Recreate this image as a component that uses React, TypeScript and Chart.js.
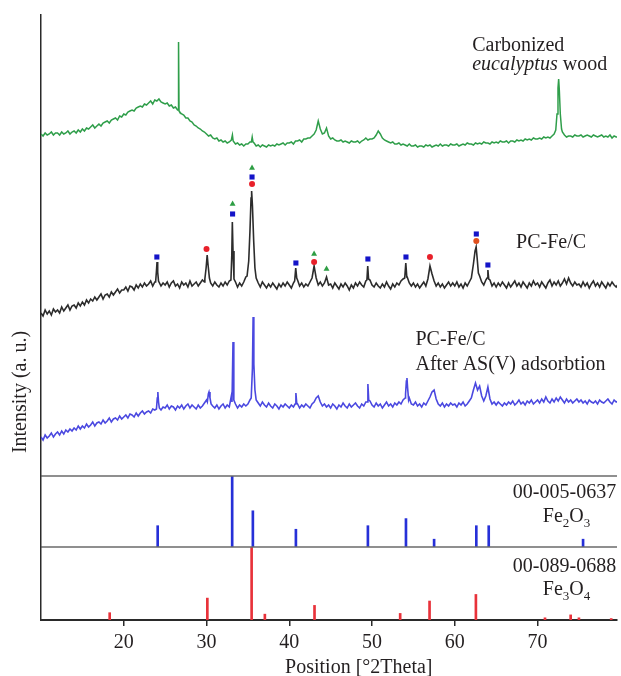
import { useEffect, useRef } from "react";
import { Chart, registerables } from "chart.js";

Chart.register(...registerables);

// 2θ axis
const THETA_MIN = 10;
const THETA_MAX = 79.6;
const xTickValues = [20, 30, 40, 50, 60, 70];

// Diffractograms are sampled every 0.25° from 10°, intensities in a.u. with the
// vertical offsets of the stacked plot already applied.
const SCAN_START = 10;
const SCAN_STEP = 0.25;

const woodScan = [
  342, 340, 343, 341, 342, 344, 341, 343, 343, 341, 344, 342, 343, 345, 342, 344, 345, 343, 346, 344,
  347, 345, 348, 347, 349, 351, 348, 350, 352, 350, 353, 354, 355, 353, 356, 357, 358, 356, 360, 359,
  362, 361, 364, 365, 366, 365, 368, 369, 370, 369, 372, 371, 373, 375, 372, 376, 375, 377, 374, 373,
  372, 373, 370, 371, 368, 369, 366, 364, 362, 361, 358, 358, 355, 354, 351, 350, 348, 347, 345, 344,
  342, 340, 341, 338, 337, 338, 335, 336, 334, 335, 333, 334, 336, 335, 332, 333, 331, 332, 330, 332,
  332, 334, 337, 333, 330, 331, 329, 331, 330, 329, 331, 330, 331, 330, 332, 331, 332, 333, 331, 333,
  333, 334, 332, 335, 335, 336, 334, 337, 337, 338, 338, 340, 342, 346, 355, 347, 342, 343, 348, 340,
  337, 338, 336, 335, 335, 336, 334, 335, 334, 333, 335, 334, 334, 335, 333, 335, 336, 338, 336, 337,
  337, 338, 341, 345, 342, 338, 336, 335, 334, 333, 334, 332, 332, 333, 331, 332, 331, 330, 332, 330,
  330, 331, 329, 330, 330, 329, 331, 330, 331, 329, 330, 331, 330, 332, 330, 331, 331, 330, 332, 331,
  331, 332, 330, 331, 332, 331, 333, 332, 332, 331, 333, 332, 333, 332, 334, 333, 333, 332, 334, 333,
  334, 333, 335, 334, 334, 335, 333, 335, 335, 334, 336, 335, 336, 335, 337, 336, 337, 336, 338, 337,
  337, 338, 337, 339, 338, 339, 338, 340, 342, 350, 390, 360, 344, 341, 339, 340, 340, 339, 341, 340,
  340, 341, 339, 340, 341, 340, 339, 341, 340, 339, 340, 341, 339, 340, 339, 341, 338, 340, 339, 339,
];

// sharp reflections, sampled finer than the scan grid: [2θ, intensity]
const woodPeaks: number[][][] = [
  [[26.57, 366], [26.62, 434], [26.68, 365]],
  [[33.05, 336], [33.13, 341], [33.22, 335]],
  [[35.42, 334], [35.52, 339], [35.62, 334]],
  [[72.2, 346], [72.35, 362], [72.47, 388], [72.55, 397], [72.63, 386], [72.75, 362], [72.9, 347]],
];

const pcfeScan = [
  163, 160, 166, 162, 165, 161, 167, 164, 166, 163, 169, 165, 168, 171, 166, 170, 171, 168, 173, 170,
  174, 171, 176, 173, 177, 175, 179, 176, 179, 182, 177, 181, 182, 179, 184, 181, 184, 187, 183, 186,
  186, 189, 185, 190, 189, 186, 191, 188, 192, 189, 193, 190, 192, 195, 190, 194, 210, 195, 190, 193,
  191, 194, 189, 193, 195, 190, 192, 188, 194, 191, 193, 189, 195, 190, 192, 194, 190, 193, 196, 194,
  210, 205, 193, 190, 194, 191, 189, 193, 190, 194, 191, 195, 200, 205, 194, 189, 193, 190, 194, 199,
  210, 245, 280, 225, 198, 193, 189, 194, 191, 188, 192, 189, 193, 190, 187, 192, 189, 193, 190, 194,
  191, 188, 193, 205, 196, 190, 193, 189, 192, 190, 194, 198, 210, 198, 191, 194, 190, 193, 199, 191,
  192, 188, 193, 190, 187, 192, 189, 193, 190, 186, 191, 188, 193, 190, 194, 191, 189, 195, 210, 196,
  191, 189, 193, 190, 188, 192, 189, 194, 190, 187, 192, 189, 193, 191, 195, 197, 213, 199, 193, 190,
  193, 189, 192, 188, 191, 194, 190, 197, 210, 202, 195, 190, 193, 189, 192, 188, 191, 194, 190, 193,
  190, 194, 189, 192, 188, 193, 190, 194, 198, 212, 228, 215, 200, 194, 191, 196, 206, 196, 190, 193,
  189, 193, 190, 194, 191, 188, 193, 189, 192, 195, 190, 193, 189, 194, 191, 188, 193, 190, 195, 191,
  193, 189, 194, 191, 188, 193, 196, 190, 194, 191, 195, 190, 193, 197, 192, 198, 193, 190, 194, 191,
  192, 189, 194, 190, 193, 188, 192, 195, 190, 193, 189, 194, 191, 188, 193, 190, 194, 191, 189, 192,
];

const pcfePeaks: number[][][] = [
  [[23.85, 194], [23.95, 205], [24.02, 214], [24.1, 204], [24.2, 195]],
  [[29.8, 197], [29.95, 208], [30.08, 221], [30.2, 210], [30.35, 198]],
  [[32.95, 196], [33.05, 220], [33.12, 254], [33.2, 225], [33.32, 197]],
  [[34.9, 200], [35.1, 215], [35.25, 245], [35.38, 278], [35.45, 285], [35.55, 270], [35.7, 235], [35.85, 208], [36.0, 198]],
  [[40.65, 195], [40.78, 208], [40.9, 198]],
  [[49.38, 196], [49.48, 210], [49.58, 197]],
  [[53.95, 198], [54.08, 213], [54.2, 199]],
  [[62.3, 212], [62.45, 225], [62.58, 229], [62.7, 218], [62.85, 203]],
  [[63.9, 198], [64.0, 206], [64.1, 197]],
];

const adsorbedScan = [
  39, 36, 41, 38, 40, 43, 39, 42, 44, 41, 45, 42, 46, 44, 47, 45, 48, 46, 50, 47,
  50, 48, 52, 49, 51, 54, 50, 53, 54, 52, 56, 53, 55, 58, 54, 57, 58, 56, 60, 57,
  59, 61, 58, 62, 61, 59, 63, 60, 63, 65, 62, 64, 65, 63, 67, 66, 80, 70, 66, 69,
  68, 71, 67, 70, 69, 66, 70, 68, 71, 67, 70, 72, 68, 71, 69, 67, 71, 68, 70, 73,
  76, 83, 76, 70, 68, 71, 67, 70, 72, 68, 71, 69, 80, 110, 72, 68, 71, 69, 72, 70,
  72, 76, 120, 110, 78, 73, 70, 74, 71, 69, 73, 70, 68, 72, 70, 67, 71, 69, 72, 70,
  68, 71, 69, 80, 72, 68, 71, 69, 72, 70, 68, 72, 74, 78, 80, 74, 70, 72, 69, 71,
  68, 72, 70, 67, 71, 69, 73, 70, 68, 72, 69, 71, 73, 70, 68, 72, 70, 74, 90, 75,
  71, 69, 73, 70, 72, 68, 71, 74, 70, 72, 69, 73, 71, 74, 72, 76, 78, 96, 78, 72,
  71, 74, 70, 72, 69, 73, 71, 75, 79, 84, 86, 77, 72, 70, 73, 69, 72, 70, 73, 71,
  72, 69, 73, 71, 74, 70, 72, 75, 78, 86, 93, 86, 90, 80, 75, 80, 89, 77, 72, 74,
  71, 74, 72, 70, 73, 71, 74, 72, 75, 71, 73, 76, 72, 74, 71, 75, 73, 76, 72, 74,
  76, 73, 77, 74, 79, 75, 73, 77, 74, 78, 75, 79, 76, 73, 77, 74, 76, 73, 75, 77,
  74, 76, 73, 75, 72, 76, 74, 73, 75, 72, 76, 74, 73, 75, 77, 74, 72, 76, 74, 75,
];

const adsorbedPeaks: number[][][] = [
  [[23.95, 67], [24.05, 78], [24.12, 84], [24.2, 74], [24.3, 68]],
  [[30.1, 74], [30.22, 82], [30.3, 84], [30.42, 78], [30.55, 72]],
  [[33.08, 74], [33.2, 134], [33.3, 76]],
  [[35.4, 78], [35.55, 108], [35.63, 159], [35.72, 112], [35.85, 86], [36.0, 76]],
  [[40.7, 72], [40.8, 83], [40.9, 73]],
  [[49.4, 74], [49.5, 92], [49.6, 76]],
  [[54.05, 82], [54.15, 95], [54.22, 98], [54.3, 88], [54.42, 76]],
];

// phase identification marks above the PC-Fe/C reflections: [2θ, height]
const hematiteMarks = [[24.0, 219], [33.15, 262], [35.5, 299], [40.8, 213], [49.5, 217], [54.1, 219], [62.6, 242], [64.0, 211]];
const magnetiteMarks = [[30.0, 227], [35.5, 292], [43.0, 214], [57.0, 219]];
const magnetiteMarksAlt = [[62.6, 235]];
const triangleMarks = [[33.15, 272], [35.5, 308], [43.0, 222], [44.5, 207]];

// reference patterns (relative intensity, %)
const fe2o3Theta = [24.1, 33.1, 35.6, 40.8, 49.5, 54.1, 57.5, 62.6, 64.1, 75.5];
const fe2o3Rel = [30, 100, 51, 25, 30, 40, 11, 30, 30, 11];
const fe3o4Theta = [18.3, 30.1, 35.45, 37.05, 43.05, 53.4, 56.95, 62.55, 70.9, 74.0, 75.0, 78.9];
const fe3o4Rel = [10, 30, 100, 8, 20, 9, 26, 35, 3, 7, 3, 2];

const TEXT = "#231f20";
const SERIF = '"Liberation Serif", "Times New Roman", serif';

type Run = { t: string; italic?: boolean; sub?: boolean };
type Caption = { runs: Run[]; x: number; y: number; axis: string; align: "left" | "right" | "center" };

const captions: Caption[] = [
  { runs: [{ t: "Carbonized" }], x: 62.1, y: 425, axis: "yTop", align: "left" },
  { runs: [{ t: "eucalyptus", italic: true }, { t: " wood" }], x: 62.1, y: 406.5, axis: "yTop", align: "left" },
  { runs: [{ t: "PC-Fe/C" }], x: 67.4, y: 228.5, axis: "yTop", align: "left" },
  { runs: [{ t: "PC-Fe/C" }], x: 55.25, y: 131, axis: "yTop", align: "left" },
  { runs: [{ t: "After AS(V) adsorbtion" }], x: 55.25, y: 106.5, axis: "yTop", align: "left" },
  { runs: [{ t: "00-005-0637" }], x: 79.5, y: 68.5, axis: "yHem", align: "right" },
  { runs: [{ t: "Fe" }, { t: "2", sub: true }, { t: "O" }, { t: "3", sub: true }], x: 73.5, y: 35.5, axis: "yHem", align: "center" },
  { runs: [{ t: "00-089-0688" }], x: 79.5, y: 66, axis: "yMag", align: "right" },
  { runs: [{ t: "Fe" }, { t: "3", sub: true }, { t: "O" }, { t: "4", sub: true }], x: 73.5, y: 34, axis: "yMag", align: "center" },
];

function buildScan(scan: number[], peaks: number[][][]) {
  const spans = peaks.map((p) => [p[0][0], p[p.length - 1][0]]);
  const pts = scan
    .map((y, i) => ({ x: SCAN_START + i * SCAN_STEP, y }))
    .filter((p) => !spans.some(([a, b]) => p.x >= a && p.x <= b));
  peaks.forEach((pk) => pk.forEach(([x, y]) => pts.push({ x, y })));
  pts.sort((a, b) => a.x - b.x);
  return pts;
}

const toPoints = (list: number[][]) => list.map(([x, y]) => ({ x, y }));
const sticks = (theta: number[], rel: number[]) => theta.map((x, i) => ({ x, y: rel[i] }));

const runFont = (r: Run) => (r.sub ? `13px ${SERIF}` : `${r.italic ? "italic " : ""}20px ${SERIF}`);

const decor = {
  id: "xrdDecor",
  afterDraw(chart: any) {
    const { ctx, chartArea, scales } = chart;
    ctx.save();
    // panel separators
    ctx.strokeStyle = "#6a6a6a";
    ctx.lineWidth = 1.5;
    for (const id of ["yTop", "yHem"]) {
      const yb = scales[id].bottom;
      ctx.beginPath();
      ctx.moveTo(chartArea.left, yb);
      ctx.lineTo(chartArea.right, yb);
      ctx.stroke();
    }
    // captions
    ctx.fillStyle = TEXT;
    ctx.textBaseline = "alphabetic";
    ctx.textAlign = "left";
    for (const c of captions) {
      const px = scales.x.getPixelForValue(c.x);
      const py = scales[c.axis].getPixelForValue(c.y);
      let total = 0;
      for (const r of c.runs) {
        ctx.font = runFont(r);
        total += ctx.measureText(r.t).width;
      }
      let cx = c.align === "left" ? px : c.align === "right" ? px - total : px - total / 2;
      for (const r of c.runs) {
        ctx.font = runFont(r);
        ctx.fillText(r.t, cx, py + (r.sub ? 5 : 0));
        cx += ctx.measureText(r.t).width;
      }
    }
    // axis titles
    ctx.font = `20px ${SERIF}`;
    ctx.textAlign = "center";
    ctx.textBaseline = "middle";
    ctx.fillText("Position [°2Theta]", scales.x.getPixelForValue(48.4), chart.height - 8);
    ctx.translate(chartArea.left - 20, scales.yTop.getPixelForValue(84));
    ctx.rotate(-Math.PI / 2);
    ctx.fillText("Intensity (a. u.)", 0, 0);
    ctx.restore();
  },
};

const hiddenY = (weight: number, max: number) => ({
  type: "linear" as const,
  position: "left" as const,
  stack: "xrd",
  stackWeight: weight,
  min: 0,
  max,
  ticks: { display: false },
  grid: { display: false, drawTicks: false },
  border: { display: true, color: "#2a2a2a", width: 1.5 },
  afterFit: (s: any) => {
    s.width = 0;
  },
});

export default function App() {
  const canvasRef = useRef<HTMLCanvasElement | null>(null);

  useEffect(() => {
    if (!canvasRef.current) return;
    const chart = new Chart(canvasRef.current, {
      type: "line",
      data: {
        datasets: [
          { type: "scatter", data: toPoints(triangleMarks), yAxisID: "yTop", pointStyle: "triangle", pointRadius: 3.4, backgroundColor: "#2e9e44", borderWidth: 0 },
          { type: "scatter", data: toPoints(hematiteMarks), yAxisID: "yTop", pointStyle: "rect", pointRadius: 3.6, backgroundColor: "#1414c8", borderWidth: 0 },
          { type: "scatter", data: toPoints(magnetiteMarks), yAxisID: "yTop", pointStyle: "circle", pointRadius: 3, backgroundColor: "#e8202a", borderWidth: 0 },
          { type: "scatter", data: toPoints(magnetiteMarksAlt), yAxisID: "yTop", pointStyle: "circle", pointRadius: 3, backgroundColor: "#e0501e", borderWidth: 0 },
          { label: "Carbonized eucalyptus wood", data: buildScan(woodScan, woodPeaks), yAxisID: "yTop", borderColor: "#2f9e4a", borderWidth: 1.5, pointRadius: 0, tension: 0 },
          { label: "PC-Fe/C", data: buildScan(pcfeScan, pcfePeaks), yAxisID: "yTop", borderColor: "#2c2c2c", borderWidth: 1.6, pointRadius: 0, tension: 0 },
          { label: "PC-Fe/C after As(V) adsorption", data: buildScan(adsorbedScan, adsorbedPeaks), yAxisID: "yTop", borderColor: "#4a48e0", borderWidth: 1.6, pointRadius: 0, tension: 0 },
          { type: "bar", label: "00-005-0637 Fe2O3", data: sticks(fe2o3Theta, fe2o3Rel), yAxisID: "yHem", backgroundColor: "#2630d8", barThickness: 2, grouped: false },
          { type: "bar", label: "00-089-0688 Fe3O4", data: sticks(fe3o4Theta, fe3o4Rel), yAxisID: "yMag", backgroundColor: "#e8323a", barThickness: 2, grouped: false },
        ] as any,
      },
      options: {
        animation: false,
        responsive: false,
        events: [],
        layout: { padding: { left: 41, top: 15, right: 0, bottom: 0 } },
        plugins: { legend: { display: false }, tooltip: { enabled: false } },
        scales: {
          x: {
            type: "linear",
            min: THETA_MIN,
            max: THETA_MAX,
            offset: false,
            afterBuildTicks: (s: any) => {
              s.ticks = xTickValues.map((value) => ({ value }));
            },
            afterFit: (s: any) => {
              s.height = 56;
            },
            ticks: { font: { family: SERIF, size: 20 }, color: TEXT, padding: 5, maxRotation: 0, autoSkip: false },
            grid: { display: true, offset: false, drawOnChartArea: false, drawTicks: true, tickLength: 6, color: "#2a2a2a", lineWidth: 1.5 },
            border: { display: true, color: "#2a2a2a", width: 2 },
          },
          yMag: hiddenY(73, 100),
          yHem: hiddenY(71, 100),
          yTop: hiddenY(461, 461),
        },
      } as any,
      plugins: [decor],
    });
    return () => chart.destroy();
  }, []);

  return (
    <div style={{ position: "fixed", left: 0, top: 0, width: 621, height: 676, background: "#fff" }}>
      <canvas ref={canvasRef} width={621} height={676} />
    </div>
  );
}
